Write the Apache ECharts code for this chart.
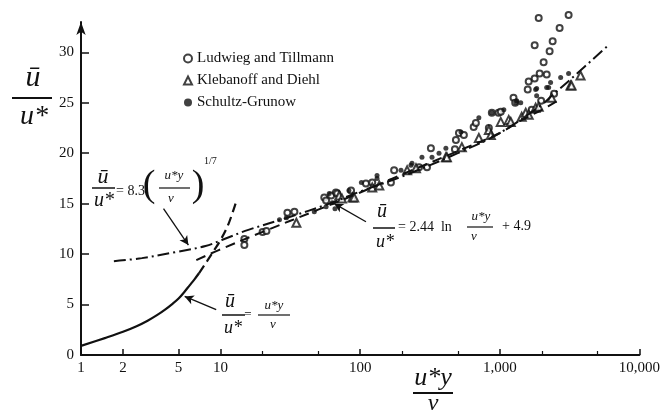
<!DOCTYPE html>
<html>
<head>
<meta charset="utf-8">
<script src="https://cdn.jsdelivr.net/npm/echarts@6/dist/echarts.min.js"></script>
<style>
  html, body { margin: 0; padding: 0; background: #fff; }
  #chart { width: 663px; height: 414px; }
</style>
</head>
<body>
<div id="chart"></div>
<script>
// Velocity profile of a turbulent boundary layer: u/u* against u*y/nu

// axis ticks
const xMajorTicks = [1, 2, 5, 10, 100, 1000, 10000];
const xMinorTicks = [20, 50, 200, 500, 2000, 5000];
const yTicks = [0, 5, 10, 15, 20, 25, 30];

// measured points [u*y/nu, u/u*]
const ludwiegTillmann = [
  [14.8, 11.5], [14.8, 10.9], [20, 12.2], [21.3, 12.3], [30.1, 14.1], [33.8, 14.2],
  [55.3, 15.6], [57, 15.3], [62, 15.8], [67, 16.1], [68.5, 16.0], [86, 16.3],
  [110, 17.0], [122, 17.1], [166, 17.1], [175, 18.3], [264, 18.6], [301, 18.6],
  [321, 20.5], [477, 20.4], [485, 21.3], [510, 22.0], [553, 21.8], [650, 22.6],
  [674, 23.0], [835, 22.5], [877, 24.0], [980, 24.0], [1017, 24.1], [1254, 25.5],
  [1290, 25.0], [1585, 26.3], [1611, 27.1], [1693, 24.3], [1778, 27.4], [1931, 27.9],
  [1978, 25.2], [2168, 27.8], [2449, 25.9], [2061, 29.0], [2275, 30.1], [2392, 31.1],
  [1778, 30.7], [2683, 32.4], [1900, 33.4], [3112, 33.7]
];
const klebanoffDiehl = [
  [34.9, 13.1], [70.8, 15.8], [74, 15.5], [88, 15.6], [90.6, 15.6], [122, 16.6],
  [137, 16.8], [217, 18.3], [251, 18.5], [411, 19.6], [418, 19.6], [535, 20.6],
  [708, 21.5], [835, 22.3], [863, 21.8], [1016, 23.1], [1159, 23.3], [1199, 23.1],
  [1436, 23.6], [1534, 24.0], [1611, 23.8], [1807, 24.5], [1900, 24.6], [2352, 25.5],
  [3214, 26.7], [3268, 26.7], [3790, 27.7]
];
const schultzGrunow = [
  [26.4, 13.4], [29.6, 13.6], [46.9, 14.2], [57, 14.7], [60, 16.0], [63, 15.1],
  [66, 14.5], [83, 16.3], [102, 17.1], [132, 17.5], [132, 17.8], [196, 18.3],
  [231, 18.8], [235, 19.0], [277, 19.6], [327, 19.6], [367, 20.0], [411, 20.5],
  [527, 22.1], [708, 23.5], [877, 24.0], [1069, 24.3], [1301, 25.0], [1322, 25.2],
  [1413, 25.0], [1807, 26.3], [1837, 25.7], [1837, 26.4], [2168, 26.5], [2239, 26.5],
  [2312, 27.0], [2729, 27.5], [3112, 27.9]
];

// curves [u*y/nu, u/u*]
const viscousSolid = [[1, 0.9], [1.5, 1.7], [2, 2.3], [2.5, 2.85], [3, 3.4], [3.5, 3.95], [4, 4.5],
  [4.5, 5.05], [5, 5.6], [5.5, 6.25], [6, 6.9], [6.5, 7.5], [7, 8.1]];
const viscousDashed = [[7, 8.1], [8, 9.3], [9, 10.4], [10, 11.4], [11.4, 13.0], [13, 15.3]];
const logLaw = [[6.7, 9.4], [9.7, 10.4], [20, 12.2], [50, 14.4], [100, 16.1], [200, 17.9],
  [500, 20.2], [1000, 22.0], [1400, 23.2], [2000, 24.3], [2600, 25.2]];
const powerLaw = [[1.72, 9.3], [2.73, 9.6], [4.77, 10.2], [7.8, 10.8], [10.2, 11.4], [15.8, 12.4],
  [30, 13.6], [60, 15.0], [100, 16.2], [200, 17.7], [500, 20.0], [1000, 22.0],
  [2000, 24.8], [2450, 25.9], [3200, 27.3], [5900, 30.6]];

// annotation arrows [from, to]
const arrows = [
  [[3.9, 14.5], [5.88, 10.9]],
  [[9.3, 4.5], [5.53, 5.8]],
  [[110, 13.2], [65.2, 15.0]]
];

const SERIF = '"Liberation Serif", "DejaVu Serif", serif';
const INK = '#111';

function fmtX(v) {
  return Number(v).toLocaleString('en-US');
}

function txt(x, y, s, size, opts) {
  opts = opts || {};
  return {
    type: 'text', x: x, y: y, silent: true,
    style: {
      text: s, fill: INK,
      font: (opts.italic ? 'italic ' : '') + size + 'px ' + SERIF,
      textAlign: opts.align || 'left', textVerticalAlign: opts.valign || 'middle'
    }
  };
}
function bar(x1, x2, y, w) {
  return { type: 'line', silent: true, shape: { x1: x1, y1: y, x2: x2, y2: y },
    style: { stroke: INK, lineWidth: w || 1.3 } };
}

const chart = echarts.init(document.getElementById('chart'), null, { renderer: 'canvas' });

const curveLine = (data, type, width) => ({
  type: 'line', data: data, smooth: 0.35, showSymbol: false, symbol: 'none',
  silent: true, clip: false,
  lineStyle: { color: INK, width: width || 2, type: type }
});

const option = {
  animation: false,
  backgroundColor: '#fff',
  grid: { left: 81, right: 22, top: 22, bottom: 59, containLabel: false },
  legend: {
    left: 178, top: 46, orient: 'vertical',
    itemWidth: 8, itemHeight: 8, itemGap: 7,
    textStyle: { fontFamily: SERIF, fontSize: 15, color: INK, lineHeight: 15 },
    data: ['Ludwieg and Tillmann', 'Klebanoff and Diehl', 'Schultz-Grunow']
  },
  xAxis: [
    {
      type: 'log', logBase: 10, min: 1, max: 10000,
      axisLine: { lineStyle: { color: INK, width: 2 } },
      axisTick: { inside: true, length: 6, customValues: xMajorTicks, lineStyle: { color: INK, width: 1.5 } },
      axisLabel: { customValues: xMajorTicks, formatter: fmtX, margin: 6,
        fontFamily: SERIF, fontSize: 15, color: INK },
      splitLine: { show: false }, minorTick: { show: false }
    },
    {
      type: 'log', logBase: 10, min: 1, max: 10000, position: 'bottom',
      axisLine: { show: false },
      axisTick: { inside: true, length: 4, customValues: xMinorTicks, lineStyle: { color: INK, width: 1.2 } },
      axisLabel: { show: false },
      splitLine: { show: false }
    }
  ],
  yAxis: {
    type: 'value', min: 0, max: 33,
    axisLine: { show: true, symbol: ['none', 'arrow'], symbolSize: [7, 13],
      lineStyle: { color: INK, width: 2 } },
    axisTick: { show: true, inside: true, length: 8, customValues: yTicks, lineStyle: { color: INK, width: 1.5 } },
    axisLabel: { customValues: yTicks, margin: 7, fontFamily: SERIF, fontSize: 15, color: INK },
    splitLine: { show: false }
  },
  series: [
    curveLine(viscousSolid, 'solid', 2.2),
    curveLine(viscousDashed, [9, 5], 2.2),
    curveLine(logLaw, [10, 6], 2),
    Object.assign(curveLine(powerLaw, [12, 4, 2, 4], 2), {
      markLine: {
        silent: true, symbol: ['none', 'arrow'], symbolSize: [7, 9],
        lineStyle: { color: INK, width: 1.3, type: 'solid' },
        label: { show: false },
        data: arrows.map(a => [{ coord: a[0] }, { coord: a[1] }])
      }
    }),
    {
      name: 'Ludwieg and Tillmann', type: 'scatter', data: ludwiegTillmann, clip: false,
      symbol: 'emptyCircle', symbolSize: 6,
      itemStyle: { color: INK, borderColor: INK, borderWidth: 1.5 }
    },
    {
      name: 'Klebanoff and Diehl', type: 'scatter', data: klebanoffDiehl, clip: false,
      symbol: 'emptyTriangle', symbolSize: 8,
      itemStyle: { color: INK, borderColor: INK, borderWidth: 1.5 }
    },
    {
      name: 'Schultz-Grunow', type: 'scatter', data: schultzGrunow, clip: false,
      symbol: 'circle', symbolSize: 5,
      itemStyle: { color: INK }
    }
  ],
  graphic: [
    // y-axis title
    txt(33, 78, 'ū', 30, { italic: true, align: 'center' }),
    bar(12, 52, 98, 2),
    txt(34, 117, 'u*', 28, { italic: true, align: 'center' }),
    // x-axis title
    txt(433, 378, 'u*y', 26, { italic: true, align: 'center' }),
    bar(413, 453, 393, 2),
    txt(433, 404, 'ν', 24, { italic: true, align: 'center' }),
    // power law label
    txt(103, 177, 'ū', 22, { italic: true, align: 'center' }),
    bar(92, 115, 188, 1.5),
    txt(104, 201, 'u*', 20, { italic: true, align: 'center' }),
    txt(116, 191, '= 8.3', 14),
    txt(149, 186, '(', 38, { align: 'center' }),
    txt(174, 176, 'u*y', 13, { italic: true, align: 'center' }),
    bar(159, 190, 188, 1.2),
    txt(171, 199, 'ν', 13, { italic: true, align: 'center' }),
    txt(198, 186, ')', 38, { align: 'center' }),
    txt(204, 161, '1/7', 10),
    // viscous sublayer label
    txt(230, 302, 'ū', 20, { italic: true, align: 'center' }),
    bar(222, 245, 315, 1.5),
    txt(233, 328, 'u*', 18, { italic: true, align: 'center' }),
    txt(248, 315, '=', 13, { align: 'center' }),
    txt(274, 306, 'u*y', 13, { italic: true, align: 'center' }),
    bar(258, 290, 315, 1.2),
    txt(273, 325, 'ν', 13, { italic: true, align: 'center' }),
    // log law label
    txt(382, 212, 'ū', 20, { italic: true, align: 'center' }),
    bar(373, 395, 228, 1.5),
    txt(385, 242, 'u*', 18, { italic: true, align: 'center' }),
    txt(398, 227, '= 2.44  ln', 14),
    txt(481, 217, 'u*y', 13, { italic: true, align: 'center' }),
    bar(467, 493, 227, 1.2),
    txt(474, 237, 'ν', 13, { italic: true, align: 'center' }),
    txt(502, 226, '+ 4.9', 14)
  ]
};

chart.setOption(option);
</script>
</body>
</html>
